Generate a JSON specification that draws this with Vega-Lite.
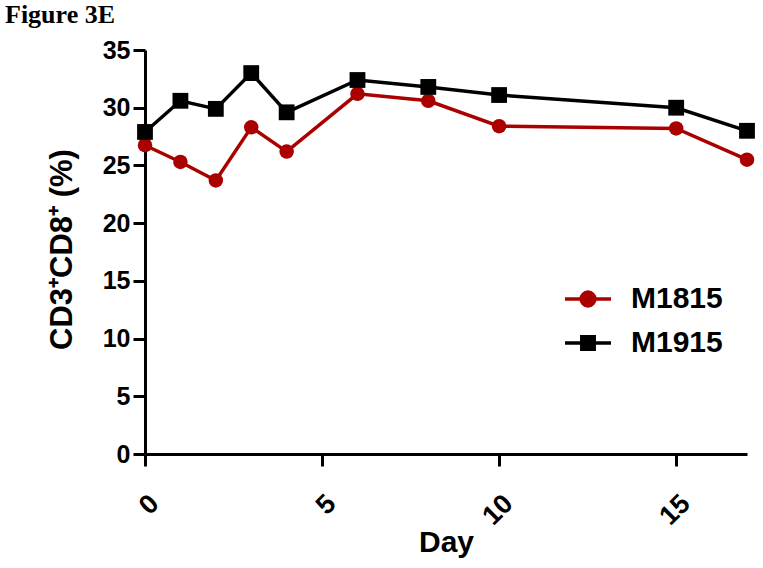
{
  "$schema": "https://vega.github.io/schema/vega-lite/v6.json",
  "width": 602,
  "height": 404,
  "autosize": {"type": "none"},
  "padding": {"left": 145, "top": 50, "right": 16, "bottom": 114},
  "background": "white",
  "title": {
    "text": "Figure 3E",
    "anchor": "start",
    "frame": "group",
    "font": "Liberation Serif",
    "fontSize": 26,
    "fontWeight": "bold",
    "color": "black",
    "dx": -140,
    "offset": 10
  },
  "data": {
    "values": [
      {"Day": 0, "value": 26.75, "series": "M1815"},
      {"Day": 1, "value": 25.3, "series": "M1815"},
      {"Day": 2, "value": 23.7, "series": "M1815"},
      {"Day": 3, "value": 28.3, "series": "M1815"},
      {"Day": 4, "value": 26.2, "series": "M1815"},
      {"Day": 6, "value": 31.2, "series": "M1815"},
      {"Day": 8, "value": 30.6, "series": "M1815"},
      {"Day": 10, "value": 28.4, "series": "M1815"},
      {"Day": 15, "value": 28.2, "series": "M1815"},
      {"Day": 17, "value": 25.5, "series": "M1815"},
      {"Day": 0, "value": 27.9, "series": "M1915"},
      {"Day": 1, "value": 30.6, "series": "M1915"},
      {"Day": 2, "value": 29.9, "series": "M1915"},
      {"Day": 3, "value": 33.0, "series": "M1915"},
      {"Day": 4, "value": 29.6, "series": "M1915"},
      {"Day": 6, "value": 32.4, "series": "M1915"},
      {"Day": 8, "value": 31.8, "series": "M1915"},
      {"Day": 10, "value": 31.1, "series": "M1915"},
      {"Day": 15, "value": 30.0, "series": "M1915"},
      {"Day": 17, "value": 28.0, "series": "M1915"}
    ]
  },
  "encoding": {
    "x": {
      "field": "Day",
      "type": "quantitative",
      "scale": {"domain": [0, 17], "nice": false, "zero": false},
      "axis": {
        "values": [0, 5, 10, 15],
        "title": "Day",
        "grid": false,
        "labelAngle": -45,
        "labelFont": "Liberation Sans",
        "labelFontSize": 27,
        "labelFontWeight": "bold",
        "labelColor": "black",
        "labelPadding": 24,
        "labelDx": -6,
        "labelDy": -6,
        "tickSize": 12,
        "tickWidth": 3,
        "tickColor": "black",
        "domainWidth": 3,
        "domainColor": "black",
        "titleFont": "Liberation Sans",
        "titleFontSize": 30,
        "titleFontWeight": "bold",
        "titleColor": "black",
        "titleBaseline": "alphabetic",
        "titleY": 97
      }
    },
    "y": {
      "field": "value",
      "type": "quantitative",
      "scale": {"domain": [0, 35], "nice": false},
      "axis": {
        "values": [0, 5, 10, 15, 20, 25, 30, 35],
        "title": "CD3⁺CD8⁺  (%)",
        "grid": false,
        "labelFont": "Liberation Sans",
        "labelFontSize": 25,
        "labelFontWeight": "bold",
        "labelColor": "black",
        "labelPadding": 3,
        "tickSize": 12,
        "tickWidth": 3,
        "tickColor": "black",
        "domainWidth": 3,
        "domainColor": "black",
        "titleFont": "Liberation Sans",
        "titleFontSize": 31,
        "titleFontWeight": "bold",
        "titleColor": "black",
        "titleBaseline": "middle",
        "titleX": -83,
        "titleY": 199
      }
    },
    "color": {
      "field": "series",
      "type": "nominal",
      "scale": {"domain": ["M1815", "M1915"], "range": ["#AA0000", "#000000"]},
      "legend": {
        "title": null,
        "orient": "none",
        "legendX": 418,
        "legendY": 224,
        "padding": 0,
        "symbolSize": 2116,
        "symbolStrokeWidth": 3.5,
        "labelOffset": 18,
        "rowPadding": 4,
        "labelFont": "Liberation Sans",
        "labelFontSize": 30,
        "labelFontWeight": "bold",
        "labelColor": "black",
        "encode": {
          "symbols": {
            "update": {
              "shape": {"signal": "datum.value === 'M1815' ? 'M-1,0H1M0.3,0A0.3,0.3,0,1,1,-0.3,0A0.3,0.3,0,1,1,0.3,0Z' : 'M-1,0H1M-0.27,-0.27H0.27V0.27H-0.27Z'"},
              "fill": {"signal": "datum.value === 'M1815' ? '#AA0000' : '#000000'"},
              "stroke": {"signal": "datum.value === 'M1815' ? '#AA0000' : '#000000'"},
              "strokeWidth": {"value": 3.5},
              "size": {"value": 2116},
              "opacity": {"value": 1},
              "fillOpacity": {"value": 1}
            }
          }
        }
      }
    }
  },
  "layer": [
    {"mark": {"type": "line", "strokeWidth": 3.5}},
    {
      "transform": [{"filter": "datum.series === 'M1815'"}],
      "mark": {"type": "point", "shape": "circle", "size": 210, "filled": true, "opacity": 1}
    },
    {
      "transform": [{"filter": "datum.series === 'M1915'"}],
      "mark": {"type": "point", "shape": "square", "size": 250, "filled": true, "opacity": 1}
    }
  ],
  "config": {"view": {"stroke": null}}
}
